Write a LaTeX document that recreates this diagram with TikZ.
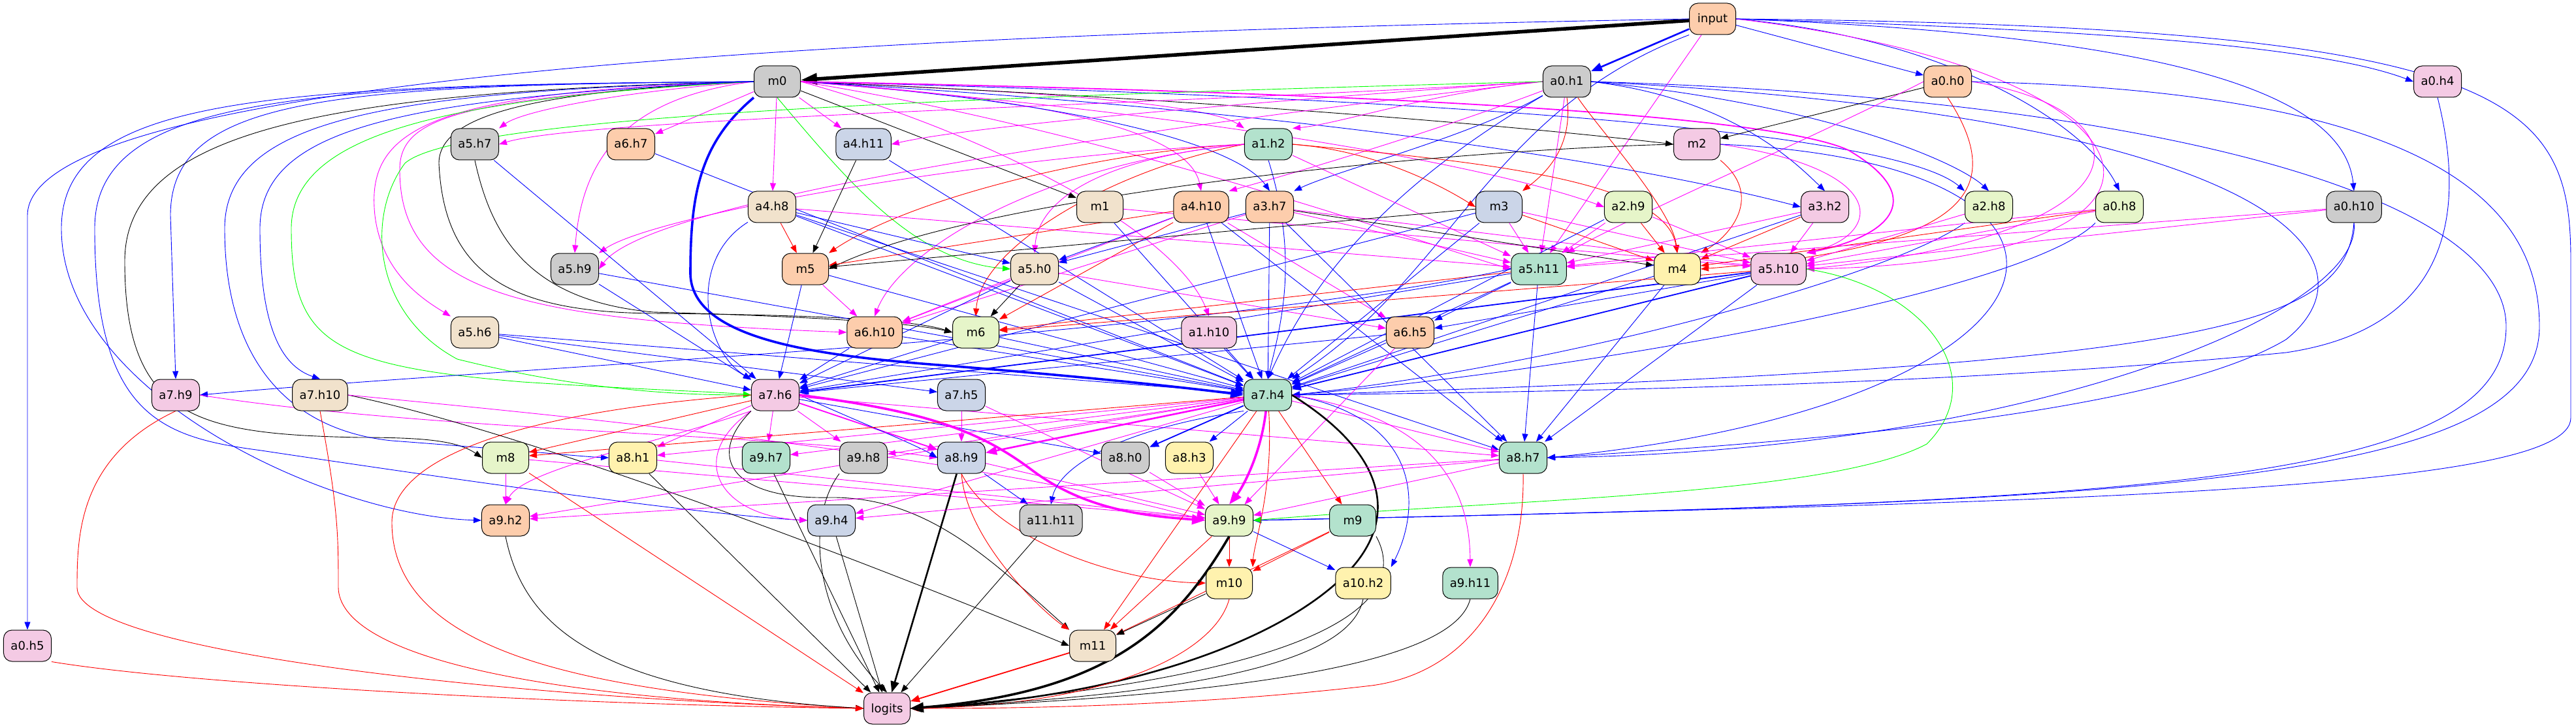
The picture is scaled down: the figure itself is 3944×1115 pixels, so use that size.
\documentclass[tikz,border=0pt]{standalone}
\usepackage{fontspec}
\setmainfont{DejaVu Sans}
\usetikzlibrary{arrows.meta}
\pgfdeclarelayer{edges}
\pgfsetlayers{edges,main}
\definecolor{cgray}{HTML}{CCCCCC}
\definecolor{cpeach}{HTML}{FDCDAC}
\definecolor{cpink}{HTML}{F4CAE4}
\definecolor{cblue}{HTML}{CBD5E8}
\definecolor{cgreen}{HTML}{B3E2CD}
\definecolor{clgreen}{HTML}{E6F5C9}
\definecolor{cyellow}{HTML}{FFF2AE}
\definecolor{cbeige}{HTML}{F1E2CC}
\definecolor{lmag}{RGB}{255,0,255}
\definecolor{lblue}{RGB}{0,0,255}
\definecolor{lred}{RGB}{255,0,0}
\definecolor{lgrn}{RGB}{0,255,0}
\tikzset{
  nd/.style={draw,line width=1pt,rounded corners=13pt,minimum height=48pt,minimum width=71pt,inner xsep=11pt,font=\fontsize{18}{22}\selectfont,text height=13pt,text depth=1pt},
  ed/.style={line width=0.9pt,-{Triangle[length=12pt,width=9pt]}},
  ek/.style={ed,black}, eb/.style={ed,lblue}, em/.style={ed,lmag}, er/.style={ed,lred}, eg/.style={ed,lgrn},
  wA/.style={line width=1.8pt,-{Triangle[length=14pt,width=11pt]}},
  wB/.style={line width=2.6pt,-{Triangle[length=17pt,width=13pt]}},
  wC/.style={line width=3.6pt,-{Triangle[length=20pt,width=15pt]}},
  wD/.style={line width=5.5pt,-{Triangle[length=25pt,width=17pt]}},
}
\newcommand\mynode[5]{\node[nd,fill=#4] (#1) at (#2,#3) {#5};}
\begin{document}
\begin{tikzpicture}[x=1pt,y=-1pt]
\useasboundingbox (0,0) rectangle (3944,1115);
\mynode{input}{2622}{29}{cpeach}{input}
\mynode{m0}{1190}{125}{cgray}{m0}
\mynode{a0h1}{2399}{125}{cgray}{a0.h1}
\mynode{a0h0}{2982}{125}{cpeach}{a0.h0}
\mynode{a0h4}{3732}{125}{cpink}{a0.h4}
\mynode{a5h7}{727}{221}{cgray}{a5.h7}
\mynode{a6h7}{966}{221}{cpeach}{a6.h7}
\mynode{a4h11}{1322}{221}{cblue}{a4.h11}
\mynode{a1h2}{1942}{221}{cgreen}{a1.h2}
\mynode{m2}{2598}{221}{cpink}{m2}
\mynode{a4h8}{1182}{317}{cbeige}{a4.h8}
\mynode{m1}{1684}{317}{cbeige}{m1}
\mynode{a4h10}{1839}{317}{cpeach}{a4.h10}
\mynode{a3h7}{1944}{317}{cpeach}{a3.h7}
\mynode{m3}{2295}{317}{cblue}{m3}
\mynode{a2h9}{2493}{317}{clgreen}{a2.h9}
\mynode{a3h2}{2794}{317}{cpink}{a3.h2}
\mynode{a2h8}{3045}{317}{clgreen}{a2.h8}
\mynode{a0h8}{3245}{317}{clgreen}{a0.h8}
\mynode{a0h10}{3604}{317}{cgray}{a0.h10}
\mynode{a5h9}{880}{412}{cgray}{a5.h9}
\mynode{m5}{1233}{412}{cpeach}{m5}
\mynode{a5h0}{1584}{412}{cbeige}{a5.h0}
\mynode{a5h11}{2356}{412}{cgreen}{a5.h11}
\mynode{m4}{2568}{412}{cyellow}{m4}
\mynode{a5h10}{2723}{412}{cpink}{a5.h10}
\mynode{a5h6}{727}{509}{cbeige}{a5.h6}
\mynode{a6h10}{1339}{509}{cpeach}{a6.h10}
\mynode{m6}{1494}{509}{clgreen}{m6}
\mynode{a1h10}{1851}{509}{cpink}{a1.h10}
\mynode{a6h5}{2159}{509}{cpeach}{a6.h5}
\mynode{a7h9}{269}{605}{cpink}{a7.h9}
\mynode{a7h10}{490}{605}{cbeige}{a7.h10}
\mynode{a7h6}{1187}{605}{cpink}{a7.h6}
\mynode{a7h5}{1472}{605}{cblue}{a7.h5}
\mynode{a7h4}{1941}{605}{cgreen}{a7.h4}
\mynode{m8}{774}{701}{clgreen}{m8}
\mynode{a8h1}{969}{701}{cyellow}{a8.h1}
\mynode{a9h7}{1173}{701}{cgreen}{a9.h7}
\mynode{a9h8}{1322}{701}{cgray}{a9.h8}
\mynode{a8h9}{1472}{701}{cblue}{a8.h9}
\mynode{a8h0}{1723}{701}{cgray}{a8.h0}
\mynode{a8h3}{1821}{701}{cyellow}{a8.h3}
\mynode{a8h7}{2332}{701}{cgreen}{a8.h7}
\mynode{a9h2}{774}{797}{cpeach}{a9.h2}
\mynode{a9h4}{1273}{797}{cblue}{a9.h4}
\mynode{a11h11}{1609}{797}{cgray}{a11.h11}
\mynode{a9h9}{1882}{797}{clgreen}{a9.h9}
\mynode{m9}{2071}{797}{cgreen}{m9}
\mynode{m10}{1882}{893}{cyellow}{m10}
\mynode{a10h2}{2087}{893}{cyellow}{a10.h2}
\mynode{a9h11}{2251}{893}{cgreen}{a9.h11}
\mynode{a0h5}{42}{989}{cpink}{a0.h5}
\mynode{m11}{1673}{989}{cbeige}{m11}
\mynode{logits}{1358}{1085}{cpink}{logits}
\begin{pgfonlayer}{edges}
\fill[white] (0,0) rectangle (3944,1115);
% input
\draw[ek,wD] (input) -- (m0);
\draw[eb,wB] (input) -- (a0h1);
\draw[eb] (input) -- (a0h0);
\draw[eb] (input.east) .. controls (3200,45) and (3550,70) .. (a0h4.west);
\draw[eb] (input.west) .. controls (1400,50) and (42,110) .. (42,330) -- (a0h5.north);
\draw[eb] (input.east) .. controls (3000,60) and (3200,200) .. (a0h8.north);
\draw[eb] (input.east) .. controls (3350,55) and (3590,150) .. (a0h10.north);
\draw[em] (input) -- (a5h11);
\draw[em] (input.east) .. controls (3350,110) and (3420,400) .. (a5h10.east);
\draw[eb] (input.south west) .. controls (2280,170) and (2225,420) .. (a7h4.north east);
\draw[eb] (input.east) .. controls (3850,40) and (3936,150) .. (3936,400) -- (3936,640) .. controls (3936,750) and (3200,769) .. (a9h9.east);
% m0
\draw[em] (m0.west) .. controls (950,140) and (800,170) .. (a5h7.north east);
\draw[em] (m0) -- (a6h7);
\draw[em] (m0) -- (a4h11);
\draw[em] (m0) -- (a4h8);
\draw[ek] (m0) -- (m1);
\draw[em] (m0.east) .. controls (1600,140) and (1850,160) .. (a1h2.north west);
\draw[em] (m0.east) .. controls (1600,150) and (1820,200) .. (a4h10.north);
\draw[eb] (m0.east) .. controls (1700,160) and (1900,230) .. (a3h7.north);
\draw[eg] (m0.south) .. controls (1300,280) and (1400,400) .. (a5h0.west);
\draw[ek] (m0.east) .. controls (1800,150) and (2300,190) .. (m2.west);
\draw[em] (m0.east) .. controls (1900,180) and (2300,260) .. (a2h9.west);
\draw[eb] (m0.east) .. controls (2000,170) and (2500,250) .. (a3h2.west);
\draw[eb] (m0.east) .. controls (2200,150) and (2900,200) .. (a2h8.north west);
\draw[em] (m0.west) .. controls (950,150) and (890,250) .. (a5h9.north);
\draw[em] (m0.east) .. controls (1700,200) and (2200,380) .. (a5h11.west);
\draw[em,wA] (m0.east) .. controls (2000,140) and (2700,170) .. (2830,230) .. controls (2950,300) and (2900,360) .. (a5h10.north east);
\draw[em] (m0.west) .. controls (650,140) and (560,200) .. (574,330) .. controls (585,420) and (650,460) .. (a5h6.north west);
\draw[em] (m0.west) .. controls (700,150) and (612,180) .. (612,260) .. controls (612,450) and (800,490) .. (a6h10.west);
\draw[em] (m0.east) .. controls (1500,200) and (1800,350) .. (a1h10.north);
\draw[ek] (m0.west) .. controls (800,140) and (672,180) .. (672,250) .. controls (680,420) and (780,478) .. (1000,480) .. controls (1250,482) and (1400,490) .. (m6.west);
\draw[eb] (m0.west) .. controls (500,130) and (261,150) .. (261,330) -- (a7h9.north);
\draw[eb] (m0.west) .. controls (600,150) and (398,200) .. (398,350) .. controls (398,500) and (430,560) .. (a7h10.north);
\draw[eg] (m0.west) .. controls (700,150) and (446,200) .. (446,350) .. controls (446,520) and (500,560) .. (800,585) .. controls (1000,598) and (1100,600) .. (a7h6.west);
\draw[ek] (m0.west) .. controls (500,140) and (191,200) .. (191,400) .. controls (191,640) and (300,665) .. (550,670) .. controls (650,670) and (700,675) .. (m8.west);
\draw[eb] (m0.west) .. controls (600,140) and (344,180) .. (344,350) .. controls (344,560) and (450,660) .. (600,675) .. controls (800,690) and (900,700) .. (a8h1.west);
\draw[eb] (m0.west) .. controls (400,130) and (94,150) .. (94,350) .. controls (94,600) and (500,790) .. (a9h2.west);
\draw[eb] (m0.west) .. controls (450,130) and (145,150) .. (145,350) .. controls (145,640) and (250,670) .. (400,690) .. controls (800,750) and (1100,790) .. (a9h4.west);
\draw[eb,wC] (m0.south west) .. controls (1070,220) and (1057,300) .. (1057,420) .. controls (1060,520) and (1250,545) .. (1450,560) .. controls (1700,580) and (1850,598) .. (a7h4.west);
% a0h1
\draw[em] (a0h1.west) .. controls (1800,160) and (900,180) .. (a5h7.east);
\draw[em] (a0h1.west) .. controls (2000,150) and (1500,190) .. (a4h11.east);
\draw[em] (a0h1.west) .. controls (2200,140) and (2050,190) .. (a1h2.north east);
\draw[em] (a0h1) .. controls (2200,200) and (2000,260) .. (a4h10.north east);
\draw[eb] (a0h1) .. controls (2250,210) and (2050,260) .. (a3h7.north east);
\draw[er] (a0h1.south) .. controls (2410,230) and (2360,270) .. (m3.north east);
\draw[er] (a0h1) .. controls (2450,200) and (2560,320) .. (m4.north);
\draw[eb] (a0h1.east) .. controls (2650,150) and (2750,250) .. (a3h2.north);
\draw[eb] (a0h1.east) .. controls (2800,160) and (3000,250) .. (a2h8.north);
\draw[em] (a0h1) -- (a5h11);
\draw[em] (a0h1.west) .. controls (1800,190) and (1000,300) .. (a5h9.east);
\draw[eg] (a0h1.west) .. controls (1400,150) and (700,180) .. (620,250) .. controls (560,330) and (570,480) .. (700,550) .. controls (900,600) and (1050,605) .. (a7h6.west);
\draw[eb] (a0h1) .. controls (2100,300) and (2000,450) .. (a7h4.north);
\draw[eb] (a0h1.east) .. controls (3300,150) and (3837,300) .. (3837,500) .. controls (3837,740) and (3300,769) .. (a9h9.east);
\draw[eb] (a0h1.east) .. controls (3500,180) and (3650,400) .. (3500,520) .. controls (3300,640) and (2700,680) .. (a8h7.east);
% a0h0
\draw[ek] (a0h0) -- (m2);
\draw[er] (a0h0.south) .. controls (3080,300) and (3000,380) .. (m4.east);
\draw[em] (a0h0.east) .. controls (3300,170) and (3300,360) .. (a5h10.east);
\draw[em] (a0h0.west) .. controls (2800,200) and (2500,330) .. (a5h11.north east);
\draw[eb] (a0h0.east) .. controls (3700,140) and (3888,300) .. (3888,500) .. controls (3888,740) and (3300,769) .. (a9h9.east);
% a0h4
\draw[eb] (a0h4.south) .. controls (3770,300) and (3770,500) .. (3500,540) .. controls (3000,590) and (2400,600) .. (a7h4.east);
% a1h2
\draw[er] (a1h2.east) .. controls (2100,230) and (2200,280) .. (m3.west);
\draw[er] (a1h2.west) .. controls (1700,230) and (1400,300) .. (m5.north east);
\draw[er] (a1h2.west) .. controls (1700,260) and (1500,380) .. (m6.north);
\draw[er] (a1h2.east) .. controls (2300,250) and (2550,280) .. (m4.north);
\draw[em] (a1h2.west) .. controls (1700,240) and (1590,300) .. (a5h0.north);
\draw[em] (a1h2.west) .. controls (1600,250) and (1380,380) .. (a6h10.north);
\draw[em] (a1h2.west) .. controls (1500,240) and (1000,330) .. (a5h9.north east);
\draw[em] (a1h2) -- (a5h11);
\draw[eb] (a1h2.south) .. controls (1990,400) and (1960,500) .. (a7h4.north);
% m2
\draw[ek] (m2.west) .. controls (2200,230) and (1500,300) .. (m5.east);
\draw[er] (m2.south east) .. controls (2700,300) and (2650,360) .. (m4.north east);
\draw[em] (m2.east) .. controls (2900,260) and (2880,360) .. (a5h10.north east);
\draw[eb] (m2.east) .. controls (3300,250) and (3200,620) .. (a8h7.east);
% row 3
\draw[ek] (a4h11) -- (m5);
\draw[eb] (a4h11) -- (a7h4);
\draw[er] (a4h8) -- (m5);
\draw[eb] (a4h8) -- (a5h0);
\draw[eb] (a4h8) .. controls (1050,400) and (1080,540) .. (a7h6.north west);
\draw[eb] (a4h8) -- (a7h4);
\draw[eb] (a4h8) -- (a8h7);
\draw[em] (a4h8) -- (a5h11);
\draw[eb] (m1) -- (a7h4);
\draw[em] (m1) -- (a5h10);
\draw[er] (a4h10) -- (m5);
\draw[er] (a4h10) -- (m6);
\draw[eb] (a4h10) -- (a5h0);
\draw[em] (a4h10) -- (a6h10);
\draw[em] (a4h10) -- (a6h5);
\draw[eb] (a4h10) -- (a7h4);
\draw[eb] (a4h10) -- (a8h7);
\draw[ek] (a3h7) -- (m4);
\draw[eb] (a3h7) -- (a5h0);
\draw[em] (a3h7) -- (a6h10);
\draw[eb] (a3h7) -- (a7h4);
\draw[em] (a3h7) -- (a5h11);
\draw[em] (a3h7) -- (a5h10);
\draw[eb] (a3h7) -- (a8h7);
\draw[ek] (m3) -- (m5);
\draw[er] (m3) -- (m4);
\draw[em] (m3) -- (a5h11);
\draw[em] (m3) -- (a5h10);
\draw[eb] (m3) -- (a7h4);
\draw[eb] (m3) -- (a7h6);
\draw[er] (a2h9) -- (m4);
\draw[em] (a2h9) -- (a5h11);
\draw[em] (a2h9) -- (a5h10);
\draw[eb] (a2h9) -- (a7h4);
\draw[er] (a3h2) -- (m4);
\draw[em] (a3h2) -- (a5h10);
\draw[em] (a3h2) -- (a5h11);
\draw[eb] (a3h2) -- (a7h4);
\draw[em] (a2h8) -- (a5h10);
\draw[eb] (a2h8.south west) .. controls (2900,420) and (2400,560) .. (a7h4.east);
\draw[em] (a0h8) -- (a5h10);
\draw[em] (a0h8) -- (a5h11);
\draw[er] (a0h8) -- (m4);
\draw[eb] (a0h8.south west) .. controls (3100,450) and (2400,570) .. (a7h4.east);
\draw[em] (a0h10) -- (a5h10);
\draw[em] (a0h10) -- (a5h11);
\draw[eb] (a0h10.south) .. controls (3590,500) and (3400,560) .. (a7h4.east);
\draw[eb] (a0h10.south) .. controls (3620,480) and (3100,690) .. (a8h7.east);
% row 4/5
\draw[eb] (a5h9) -- (a7h6);
\draw[eb] (a5h9) -- (a7h4);
\draw[em] (m5) -- (a6h10);
\draw[eb] (m5) -- (a7h6);
\draw[eb] (m5) -- (a7h4);
\draw[ek] (a5h0) -- (m6);
\draw[em] (a5h0) -- (a6h10);
\draw[em] (a5h0) -- (a6h5);
\draw[eb] (a5h0) -- (a7h6);
\draw[eb] (a5h0) -- (a7h4);
\draw[eb] (a5h11) -- (a6h5);
\draw[er] (a5h11) -- (m6);
\draw[eb] (a5h11) -- (a7h6);
\draw[eb] (a5h11) -- (a7h4);
\draw[eb] (a5h11) -- (a8h7);
\draw[eb] (a5h11.west) .. controls (1800,520) and (800,560) .. (a7h9.east);
\draw[eb] (m4) -- (a7h4);
\draw[eb] (m4) -- (a8h7);
\draw[eb] (a5h10) -- (a6h5);
\draw[er] (a5h10) -- (m6);
\draw[eb,wA] (a5h10) -- (a7h6);
\draw[eb,wA] (a5h10) -- (a7h4);
\draw[eb] (a5h10) -- (a8h7);
\draw[eg] (a5h10.east) .. controls (2950,440) and (3050,580) .. (2950,680) .. controls (2800,760) and (2300,765) .. (a9h9.east);
\draw[eb] (a5h6) -- (a7h6);
\draw[eb] (a5h6) -- (a7h4);
\draw[eb] (a5h6) -- (a7h5);
\draw[ek] (a5h7.south) .. controls (750,350) and (800,460) .. (1000,478) .. controls (1250,485) and (1400,495) .. (m6.west);
\draw[eb] (a5h7) -- (a7h6);
\draw[eb] (a6h7) -- (a7h4);
\draw[eb] (a6h10) -- (a7h6);
\draw[eb] (a6h10) -- (a7h4);
\draw[eb] (m6) -- (a7h6);
\draw[eb] (m6) -- (a7h4);
\draw[eb] (a1h10) -- (a7h4);
\draw[eb] (a6h5) -- (a7h4);
\draw[eb] (a6h5) -- (a7h6);
\draw[em] (a6h5) -- (a9h9);
% row 7
\draw[er] (a7h9.south) .. controls (120,700) and (118,820) .. (118,900) .. controls (118,1000) and (800,1070) .. (logits.west);
\draw[em] (a7h9.east) .. controls (650,660) and (1200,665) .. (a8h9.west);
\draw[er] (a7h10.south) .. controls (518,780) and (518,820) .. (518,900) .. controls (520,1000) and (800,1070) .. (logits.west);
\draw[ek] (a7h10.east) .. controls (800,660) and (1300,850) .. (m11.west);
\draw[em] (a7h10.east) .. controls (900,640) and (1500,700) .. (a9h9.west);
\draw[er] (a7h6) -- (m8);
\draw[em] (a7h6) -- (a8h1);
\draw[em] (a7h6) -- (a9h7);
\draw[em] (a7h6) -- (a9h8);
\draw[em,wA] (a7h6) -- (a8h9);
\draw[eb] (a7h6.east) .. controls (1300,640) and (1400,680) .. (a8h9.west);
\draw[eb] (a7h6) -- (a8h0);
\draw[em] (a7h6.south west) .. controls (1000,680) and (800,720) .. (a9h2.north);
\draw[em] (a7h6.south west) .. controls (1050,700) and (1100,790) .. (a9h4.west);
\draw[em] (a7h6) -- (a8h7);
\draw[em,wC] (a7h6.east) .. controls (1420,630) and (1500,660) .. (1580,720) .. controls (1660,780) and (1750,790) .. (a9h9.west);
\draw[ek] (a7h6.south west) .. controls (1080,700) and (1120,765) .. (1270,762) .. controls (1420,760) and (1520,860) .. (m11.north west);
\draw[er] (a7h6.west) .. controls (800,630) and (600,700) .. (600,800) .. controls (600,1000) and (900,1060) .. (logits.west);
\draw[em] (a7h5) -- (a8h9);
\draw[em] (a7h5) -- (a9h9);
\draw[er] (a7h4) -- (m8);
\draw[em] (a7h4) -- (a8h1);
\draw[em] (a7h4) -- (a9h7);
\draw[em] (a7h4) -- (a9h8);
\draw[em,wB] (a7h4) -- (a8h9);
\draw[eb,wA] (a7h4) -- (a8h0);
\draw[eb] (a7h4) -- (a8h3);
\draw[em] (a7h4) -- (a9h2);
\draw[em] (a7h4) -- (a9h4);
\draw[eb] (a7h4.south west) .. controls (1700,660) and (1620,720) .. (a11h11.north);
\draw[em] (a7h4) -- (a8h7);
\draw[em,wC] (a7h4) .. controls (1930,700) and (1900,750) .. (a9h9.north);
\draw[er] (a7h4) -- (m9);
\draw[er] (a7h4) .. controls (1950,750) and (1920,830) .. (m10.north east);
\draw[eb] (a7h4.east) .. controls (2180,640) and (2175,780) .. (a10h2.north east);
\draw[em] (a7h4.east) .. controls (2200,640) and (2250,750) .. (a9h11.north);
\draw[er] (a7h4) -- (m11);
\draw[ek,wB] (a7h4.east) .. controls (2130,700) and (2140,800) .. (2060,880) .. controls (1950,990) and (1700,1070) .. (logits.east);
% row 8+
\draw[em] (m8) -- (a9h2);
\draw[em] (m8) -- (a9h9);
\draw[er] (m8) -- (logits);
\draw[ek] (a8h1) -- (logits);
\draw[em] (a8h1) -- (a9h9);
\draw[ek] (a9h7) -- (logits);
\draw[ek] (a9h8.south west) .. controls (1230,800) and (1250,950) .. (logits.north);
\draw[eb] (a8h9) -- (a11h11);
\draw[er] (a8h9.south) .. controls (1520,820) and (1700,890) .. (m10.west);
\draw[er] (a8h9.south) .. controls (1480,830) and (1600,940) .. (m11.north west);
\draw[ek,wB] (a8h9) -- (logits);
\draw[em] (a8h9) -- (a9h9);
\draw[em] (a8h0) -- (a9h9);
\draw[em] (a8h3) -- (a9h9);
\draw[em] (a8h7) -- (a9h9);
\draw[em] (a8h7) -- (a9h4);
\draw[em] (a8h7) -- (a9h2);
\draw[er] (a8h7.south) .. controls (2335,900) and (2250,1030) .. (2100,1050) .. controls (1800,1085) and (1500,1085) .. (logits.east);
\draw[ek] (a9h2.south) .. controls (800,950) and (900,1060) .. (logits.west);
\draw[ek] (a9h4) -- (logits);
\draw[ek] (a11h11) -- (logits);
\draw[er] (a9h9) -- (m10);
\draw[er] (a9h9) -- (m11);
\draw[eb] (a9h9) -- (a10h2);
\draw[ek,wC] (a9h9.south) .. controls (1800,960) and (1700,1060) .. (logits.east);
\draw[er] (m9) -- (m10);
\draw[er] (m9) -- (m11);
\draw[ek] (m9.south east) .. controls (2150,900) and (2100,1030) .. (logits.east);
\draw[ek] (m10) -- (m11);
\draw[er] (m10.south) .. controls (1860,1000) and (1700,1080) .. (logits.east);
\draw[ek] (a10h2.south) .. controls (2070,1000) and (1900,1060) .. (logits.east);
\draw[ek] (a9h11.south) .. controls (2230,1000) and (2000,1060) .. (logits.east);
\draw[er,wA] (m11) -- (logits);
\draw[er] (a0h5.south east) .. controls (300,1050) and (900,1080) .. (logits.west);
\end{pgfonlayer}
\end{tikzpicture}
\end{document}
